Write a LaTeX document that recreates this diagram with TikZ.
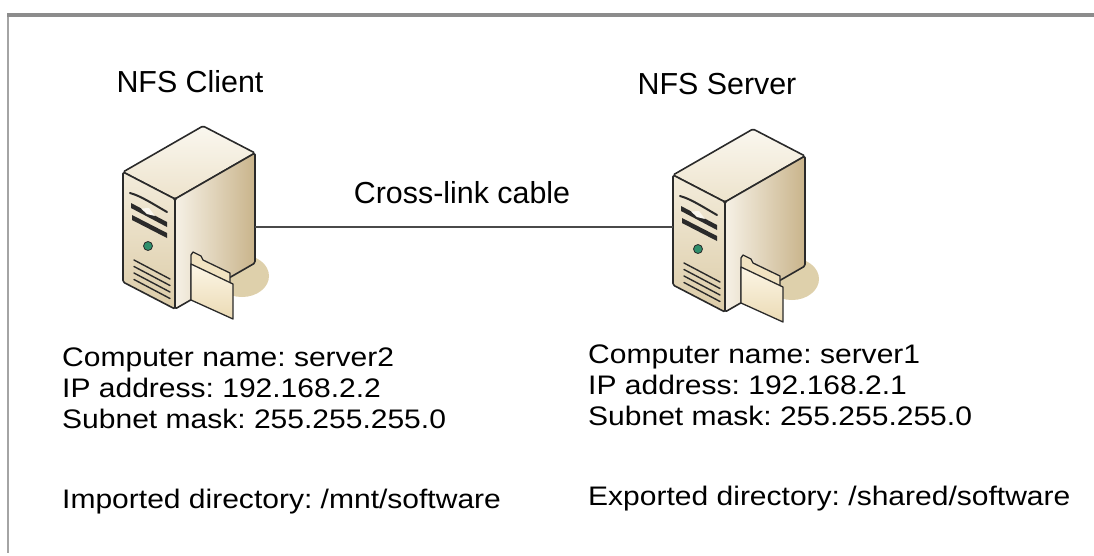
\documentclass[tikz,border=0pt]{standalone}
\usepackage{fontspec}
\setmainfont{Liberation Sans}
\newfontfamily\widesans[FakeStretch=1.12]{Liberation Sans}
\frenchspacing
\definecolor{edge}{HTML}{2A2A2A}
\definecolor{frame}{HTML}{8C8C8C}
\definecolor{frameside}{HTML}{A4A4A4}
\definecolor{cablegray}{HTML}{4A4A4A}
\definecolor{topA}{HTML}{FAF7EF}
\definecolor{topB}{HTML}{EDE3CC}
\definecolor{sideA}{HTML}{F6F1E6}
\definecolor{sideB}{HTML}{C9B48B}
\definecolor{frontA}{HTML}{F3ECDB}
\definecolor{frontB}{HTML}{DCCCA8}
\definecolor{shadowtan}{HTML}{DED0AB}
\definecolor{led}{HTML}{2F8F6C}
\definecolor{folderA}{HTML}{FCF6E6}
\definecolor{folderB}{HTML}{F1E3C2}
\definecolor{folderC}{HTML}{EBDAB4}
\tikzset{
  outline/.style={draw=edge, line width=1.6pt, line join=round},
  title/.style={font=\fontsize{30.4}{36}\selectfont, anchor=base, inner sep=0pt},
  info/.style={font=\widesans\fontsize{26.8}{31}\selectfont, anchor=base west, inner sep=0pt},
  hotspot/.style={minimum width=132pt, minimum height=110pt, inner sep=0pt},
  cable/.style={draw=cablegray, line width=1.6pt},
  % tower server with a folder leaning on it; origin = top-left corner of the front face
  servericon/.pic={
    \fill[shadowtan] (119,104) ellipse [x radius=27, y radius=21];
    \path[outline, rounded corners=1.5pt, top color=topA, bottom color=topB]
      (0,0) -- (80,-46) -- (132,-19) -- (52,27) -- cycle;
    \path[outline, rounded corners=1.5pt, left color=sideA, right color=sideB]
      (52,27) -- (132,-19) -- (132,91) -- (52,137) -- cycle;
    \path[outline, rounded corners=1.5pt, top color=frontA, bottom color=frontB]
      (0,0) -- (52,27) -- (52,137) -- (0,110) -- cycle;
    % drive bays
    \draw[edge, line width=2pt, line cap=round] (7,21) .. controls (18,24) and (30,32) .. (44,40);
    \fill[edge] (8,31) -- (44,50) -- (44,55) -- (8,36) -- cycle;
    \fill[topA] (18,36.5) -- (26,36) -- (32,44) -- (24,42) -- cycle;
    \fill[edge] (9,43) -- (44,61) -- (44,66) -- (9,48) -- cycle;
    % power light
    \draw[edge, line width=0.8pt, fill=led] (25,74) circle [radius=4.5];
    % vents
    \foreach \i in {0,...,3}
      \draw[edge, line width=1.4pt, line cap=round] (11,88+6.5*\i) -- (47,107+6.5*\i);
    % folder
    \path[outline, line width=1.3pt, fill=folderB]
      (68,127) -- (68,83) -- (70,80) -- (78,84) -- (80,88) -- (107,101) -- (107,140) -- cycle;
    \path[outline, line width=1.3pt, top color=folderA, bottom color=folderC]
      (68,92) -- (110,112) -- (110,147) -- (68,128) -- cycle;
  }
}
\begin{document}
\begin{tikzpicture}[x=1pt, y=-1pt]
\useasboundingbox (0,0) rectangle (1094,555);
% frame edges
\draw[frameside, line width=2.5pt] (8,15) -- (8,553);
\draw[frame, line width=4pt] (7,15) -- (1094,15);

% machines
\pic at (123,172) {servericon};
\pic at (673,175) {servericon};
\node[hotspot] (client) at (189,227) {};
\node[hotspot] (server) at (739,227) {};

% link
\draw[cable] (client.east) -- (server.west);

% labels
\node[title] (clienttitle) at (190,92) {NFS Client};
\node[title] (servertitle) at (717,94) {NFS Server};
\node[title] (cablelabel) at (462,203) {Cross-link cable};

\node[info] (cname) at (62,366) {Computer name: server2};
\node[info] (cip)   at (62,397) {IP address: 192.168.2.2};
\node[info] (cmask) at (62,428) {Subnet mask: 255.255.255.0};
\node[info] (cdir)  at (62,508) {Imported directory: /mnt/software};

\node[info] (sname) at (588,363) {Computer name: server1};
\node[info] (sip)   at (588,394) {IP address: 192.168.2.1};
\node[info] (smask) at (588,425) {Subnet mask: 255.255.255.0};
\node[info] (sdir)  at (588,505) {Exported directory: /shared/software};
\end{tikzpicture}
\end{document}
